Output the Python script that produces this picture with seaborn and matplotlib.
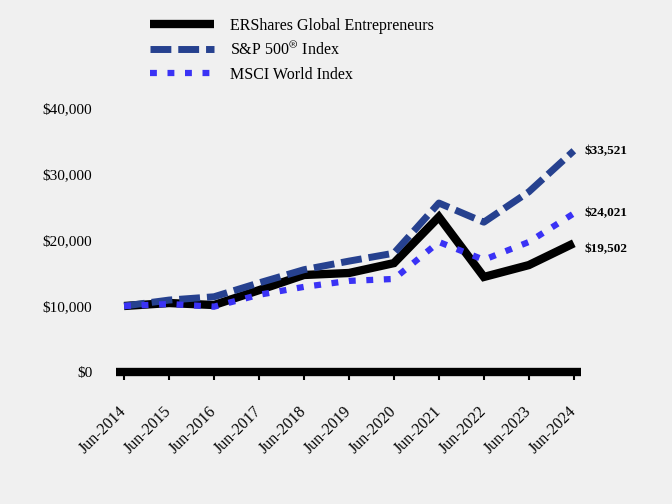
import matplotlib
matplotlib.use("Agg")
import matplotlib.pyplot as plt
import seaborn as sns
import pandas as pd

years = ["Jun-2014", "Jun-2015", "Jun-2016", "Jun-2017", "Jun-2018", "Jun-2019",
         "Jun-2020", "Jun-2021", "Jun-2022", "Jun-2023", "Jun-2024"]
ershares = [10000, 10450, 10150, 12400, 14700, 15000, 16500, 23500, 14400, 16200, 19502]
sp500 = [10000, 10900, 11400, 13500, 15500, 16800, 18000, 25600, 22700, 27300, 33521]
msci = [10000, 10300, 9900, 11700, 12900, 13800, 14100, 19700, 17000, 19700, 24021]
series_names = ["ERShares Global Entrepreneurs", "S&P 500$^{\\circledR}$ Index", "MSCI World Index"]
end_labels = ["$19,502", "$33,521", "$24,021"]
yticks = [0, 10000, 20000, 30000, 40000]
ytick_labels = ["$0", "$10,000", "$20,000", "$30,000", "$40,000"]

sns.set_theme(style="white")
plt.rcParams["font.family"] = ["Liberation Serif", "DejaVu Serif"]
plt.rcParams["mathtext.fontset"] = "stix"
plt.rcParams["text.color"] = "black"
plt.rcParams["xtick.color"] = "black"
plt.rcParams["ytick.color"] = "black"
plt.rcParams["xtick.labelcolor"] = "black"
plt.rcParams["ytick.labelcolor"] = "black"

bg = "#f0f0f0"
fig = plt.figure(figsize=(6.72, 5.04), dpi=100, facecolor=bg)
ax = fig.add_axes([116 / 672, 1 - 372 / 504, (581 - 116) / 672, (372 - 108) / 504])
ax.set_facecolor(bg)

x = list(range(len(years)))
styles = [
    dict(color="#000000", lw=6.0, linestyle="-"),
    dict(color="#26418f", lw=5.0, linestyle=(0, (3.0, 1.0))),
    dict(color="#3a32f5", lw=4.5, linestyle=(0, (1.1, 1.7))),
]
all_vals = [ershares, sp500, msci]
for name, vals, st in zip(series_names, all_vals, styles):
    df = pd.DataFrame({"x": x, "y": vals})
    sns.lineplot(data=df, x="x", y="y", ax=ax, label=name, color=st["color"],
                 linewidth=st["lw"], linestyle=st["linestyle"],
                 solid_capstyle="butt", dash_capstyle="butt", solid_joinstyle="miter")

offsets = [-4, 0, 0]
for vals, lab, dy in zip(all_vals, end_labels, offsets):
    ax.annotate(lab, xy=(x[-1], vals[-1]), xytext=(8, dy), textcoords="offset points",
                ha="left", va="center", fontsize=9.5, fontweight="bold", color="black")

ax.set_xlim(-0.18, 10.16)
ax.set_ylim(0, 40000)
ax.set_xticks(x)
ax.set_xticklabels(years, rotation=45, ha="right", va="center", rotation_mode="anchor",
                   fontsize=11.5, color="black")
ax.set_yticks(yticks)
ax.set_yticklabels(ytick_labels, fontsize=11, color="black")
ax.set_xlabel("")
ax.set_ylabel("")

for s in ["left", "right", "top"]:
    ax.spines[s].set_visible(False)
ax.spines["bottom"].set_linewidth(6)
ax.spines["bottom"].set_color("black")
ax.spines["bottom"].set_capstyle("butt")
ax.tick_params(axis="x", direction="out", length=5.5, width=1.5, color="black", pad=21, bottom=True)
ax.tick_params(axis="y", length=0, pad=17)

leg = ax.get_legend()
if leg is not None:
    leg.remove()
handles, labels = ax.get_legend_handles_labels()
fig.legend(handles, labels, loc="upper left", bbox_to_anchor=(150 / 672, 0.965),
           frameon=False, fontsize=11.5, handlelength=4.0, handletextpad=1.0,
           labelspacing=0.5, borderpad=0, borderaxespad=0)

fig.savefig("out.png", dpi=100, facecolor=bg)
